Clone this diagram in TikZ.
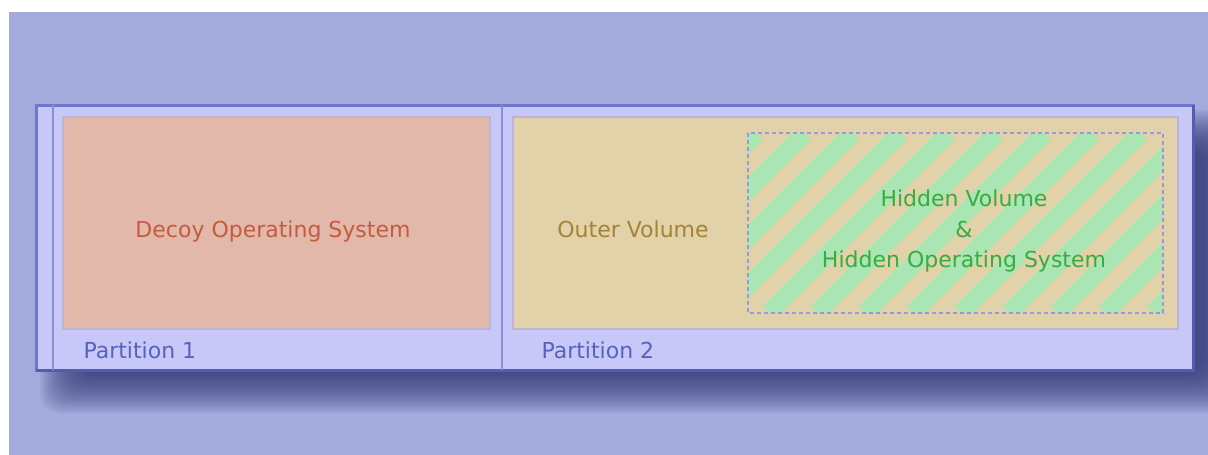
\documentclass[tikz,border=0pt]{standalone}
\usepackage{fontspec}
\setmainfont{DejaVu Sans}
\usetikzlibrary{positioning}
\definecolor{bgblue}{RGB}{164, 170, 220}
\definecolor{shadowblue}{RGB}{40, 46, 110}
\definecolor{diskfill}{RGB}{200, 200, 248}
\definecolor{diskedge}{RGB}{112, 120, 200}
\definecolor{diskdark}{RGB}{84, 92, 176}
\definecolor{splitline}{RGB}{136, 144, 212}
\definecolor{decoyfill}{RGB}{226, 184, 170}
\definecolor{outerfill}{RGB}{226, 210, 170}
\definecolor{boxedge}{RGB}{188, 180, 214}
\definecolor{hiddenstripe}{RGB}{170, 230, 180}
\definecolor{hiddenedge}{RGB}{150, 152, 224}
\definecolor{decoytext}{RGB}{196, 92, 60}
\definecolor{outertext}{RGB}{166, 130, 52}
\definecolor{hiddentext}{RGB}{56, 172, 64}
\definecolor{parttext}{RGB}{88, 98, 190}

\begin{document}
\begin{tikzpicture}[x=1pt, y=-1pt, every node/.style={font=\fontsize{22}{30.5}\selectfont}]
    \tikzstyle{volume} = [rectangle, anchor=north west, inner sep=0pt, outer sep=0pt, draw=boxedge, line width=1.5pt]
    \tikzstyle{partname} = [anchor=base west, text=parttext]
    \tikzstyle{divider} = [draw=splitline, line width=2pt]

    % Background
    \useasboundingbox (0,0) rectangle (1208,455);
    \fill[bgblue] (9,12) rectangle (1208,455);
    \begin{scope}
        \clip (9,12) rectangle (1208,455);
        \foreach \r in {30,28,...,-10}
            \fill[shadowblue, opacity=0.06, rounded corners=20pt] (70-\r,140-\r) rectangle (1215+\r,383+\r);
    \end{scope}

    % Disk
    \node (disk) [volume, fill=diskfill, draw=diskedge, line width=3pt, minimum width=1157pt, minimum height=265pt] at (36,105) {};
    \draw[diskdark, line width=3pt] (disk.north east) -- (disk.south east) -- (disk.south west);
    \draw[divider] ([xshift=17pt]disk.north west) -- ([xshift=17pt]disk.south west);
    \draw[divider] ([xshift=465.5pt]disk.north west) -- ([xshift=465.5pt]disk.south west);

    % Nodes
    \node (decoy) [volume, fill=decoyfill, minimum width=427pt, minimum height=212pt] at (63,117) {};
    \node (outer) [volume, fill=outerfill, minimum width=665pt, minimum height=212pt] at (513,117) {};
    \node (hidden) [volume, fill=outerfill, draw=none, minimum width=415pt, minimum height=180pt] at (748,133) {};
    \begin{scope}
        \clip (hidden.north west) rectangle (hidden.south east);
        \foreach \k in {-3,...,11}
            \draw[hiddenstripe, line width=18pt] ({624.5+48*\k},313) -- ++(180,-180);
    \end{scope}
    \draw[hiddenedge, line width=1.5pt, dash pattern=on 4pt off 3pt] (hidden.north west) rectangle (hidden.south east);

    % Labels
    \node (decoytxt) [anchor=base, text=decoytext] at (273,237) {Decoy Operating System};
    \node (outertxt) [anchor=base, text=outertext] at (633,237) {Outer Volume};
    \node (hiddentxt) [align=center, text=hiddentext] at (964,231) {Hidden Volume\\\&\\Hidden Operating System};
    \node (part1) [partname] at (80,358) {Partition 1};
    \node (part2) [partname] at (538,358) {Partition 2};
\end{tikzpicture}
\end{document}
